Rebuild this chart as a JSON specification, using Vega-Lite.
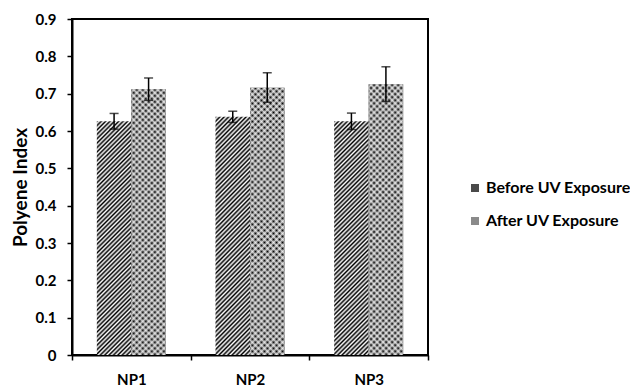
{
  "$schema": "https://vega.github.io/schema/vega-lite/v6.json",
  "width": 356,
  "height": 336,
  "autosize": "none",
  "padding": {"left": 72, "top": 19, "right": 202, "bottom": 33},
  "background": "white",
  "config": {
    "view": {"stroke": "black", "strokeWidth": 2},
    "axis": {
      "labelFont": "Lato", "labelFontWeight": "bold", "labelFontSize": 15, "labelColor": "black",
      "titleFont": "Lato", "titleFontWeight": "bold", "titleFontSize": 19, "titleColor": "black",
      "domainColor": "black", "domainWidth": 2, "tickColor": "black", "tickWidth": 1.5, "tickSize": 5, "grid": false
    }
  },
  "data": {
    "values": [
      {"np": "NP1", "series": "Before UV Exposure", "value": 0.626, "lo": 0.605, "hi": 0.647},
      {"np": "NP1", "series": "After UV Exposure", "value": 0.712, "lo": 0.682, "hi": 0.742},
      {"np": "NP2", "series": "Before UV Exposure", "value": 0.638, "lo": 0.623, "hi": 0.653},
      {"np": "NP2", "series": "After UV Exposure", "value": 0.716, "lo": 0.677, "hi": 0.756},
      {"np": "NP3", "series": "Before UV Exposure", "value": 0.626, "lo": 0.604, "hi": 0.648},
      {"np": "NP3", "series": "After UV Exposure", "value": 0.725, "lo": 0.679, "hi": 0.772}
    ]
  },
  "encoding": {
    "x": {"field": "np", "type": "nominal", "scale": {"paddingInner": 0, "paddingOuter": 0},
      "axis": {"title": null, "labelAngle": 0, "tickBand": "extent", "labelPadding": 12, "labelFontSize": 15, "labelFont": "Lato", "labelFontWeight": "bold"}},
    "xOffset": {"field": "series", "type": "nominal",
      "scale": {"domain": ["Before UV Exposure", "After UV Exposure"], "paddingOuter": 0.72, "paddingInner": 0}},
    "y": {"field": "value", "type": "quantitative", "scale": {"domain": [0, 0.9], "nice": false},
      "axis": {"title": "Polyene Index", "values": [0, 0.1, 0.2, 0.3, 0.4, 0.5, 0.6, 0.7, 0.8, 0.9],
        "labelExpr": "datum.value == 0 ? '0' : format(datum.value, '.1f')", "labelPadding": 11, "titlePadding": 5,
        "labelFont": "Lato", "labelFontWeight": "bold", "labelFontSize": 15,
        "titleFont": "Lato", "titleFontWeight": "bold", "titleFontSize": 19}}
  },
  "layer": [
    {
      "mark": {"type": "bar"},
      "encoding": {
        "y": {"datum": 0},
        "y2": {"datum": 0},
        "color": {"field": "series", "type": "nominal",
          "scale": {"domain": ["Before UV Exposure", "After UV Exposure"], "range": ["#4a4a4a", "#8a8a8a"]},
          "legend": {"title": null, "orient": "none", "legendX": 395, "legendY": 161,
            "labelFont": "Lato", "labelFontWeight": "bold", "labelFontSize": 16, "labelColor": "black",
            "symbolType": "square", "symbolSize": 64, "rowPadding": 17, "labelOffset": 3, "symbolStrokeWidth": 0}}
      }
    },
    {
      "transform": [{"filter": "datum.series == 'Before UV Exposure'"}],
      "mark": {"type": "bar", "fill": {"gradient": "linear", "x1": 0, "y1": 0, "x2": 0.17, "y2": 1.15, "stops": [
        {"offset": 0, "color": "#000"}, {"offset": 0.008, "color": "#fff"}, {"offset": 0.016, "color": "#000"}, {"offset": 0.024, "color": "#fff"},
        {"offset": 0.032, "color": "#000"}, {"offset": 0.04, "color": "#fff"}, {"offset": 0.048, "color": "#000"}, {"offset": 0.056, "color": "#fff"},
        {"offset": 0.064, "color": "#000"}, {"offset": 0.072, "color": "#fff"}, {"offset": 0.08, "color": "#000"}, {"offset": 0.088, "color": "#fff"},
        {"offset": 0.096, "color": "#000"}, {"offset": 0.104, "color": "#fff"}, {"offset": 0.112, "color": "#000"}, {"offset": 0.12, "color": "#fff"},
        {"offset": 0.128, "color": "#000"}, {"offset": 0.136, "color": "#fff"}, {"offset": 0.144, "color": "#000"}, {"offset": 0.152, "color": "#fff"},
        {"offset": 0.16, "color": "#000"}, {"offset": 0.168, "color": "#fff"}, {"offset": 0.176, "color": "#000"}, {"offset": 0.184, "color": "#fff"},
        {"offset": 0.192, "color": "#000"}, {"offset": 0.2, "color": "#fff"}, {"offset": 0.208, "color": "#000"}, {"offset": 0.216, "color": "#fff"},
        {"offset": 0.224, "color": "#000"}, {"offset": 0.232, "color": "#fff"}, {"offset": 0.24, "color": "#000"}, {"offset": 0.248, "color": "#fff"},
        {"offset": 0.256, "color": "#000"}, {"offset": 0.264, "color": "#fff"}, {"offset": 0.272, "color": "#000"}, {"offset": 0.28, "color": "#fff"},
        {"offset": 0.288, "color": "#000"}, {"offset": 0.296, "color": "#fff"}, {"offset": 0.304, "color": "#000"}, {"offset": 0.312, "color": "#fff"},
        {"offset": 0.32, "color": "#000"}, {"offset": 0.328, "color": "#fff"}, {"offset": 0.336, "color": "#000"}, {"offset": 0.344, "color": "#fff"},
        {"offset": 0.352, "color": "#000"}, {"offset": 0.36, "color": "#fff"}, {"offset": 0.368, "color": "#000"}, {"offset": 0.376, "color": "#fff"},
        {"offset": 0.384, "color": "#000"}, {"offset": 0.392, "color": "#fff"}, {"offset": 0.4, "color": "#000"}, {"offset": 0.408, "color": "#fff"},
        {"offset": 0.416, "color": "#000"}, {"offset": 0.424, "color": "#fff"}, {"offset": 0.432, "color": "#000"}, {"offset": 0.44, "color": "#fff"},
        {"offset": 0.448, "color": "#000"}, {"offset": 0.456, "color": "#fff"}, {"offset": 0.464, "color": "#000"}, {"offset": 0.472, "color": "#fff"},
        {"offset": 0.48, "color": "#000"}, {"offset": 0.488, "color": "#fff"}, {"offset": 0.496, "color": "#000"}, {"offset": 0.504, "color": "#fff"},
        {"offset": 0.512, "color": "#000"}, {"offset": 0.52, "color": "#fff"}, {"offset": 0.528, "color": "#000"}, {"offset": 0.536, "color": "#fff"},
        {"offset": 0.544, "color": "#000"}, {"offset": 0.552, "color": "#fff"}, {"offset": 0.56, "color": "#000"}, {"offset": 0.568, "color": "#fff"},
        {"offset": 0.576, "color": "#000"}, {"offset": 0.584, "color": "#fff"}, {"offset": 0.592, "color": "#000"}, {"offset": 0.6, "color": "#fff"},
        {"offset": 0.608, "color": "#000"}, {"offset": 0.616, "color": "#fff"}, {"offset": 0.624, "color": "#000"}, {"offset": 0.632, "color": "#fff"},
        {"offset": 0.64, "color": "#000"}, {"offset": 0.648, "color": "#fff"}, {"offset": 0.656, "color": "#000"}, {"offset": 0.664, "color": "#fff"},
        {"offset": 0.672, "color": "#000"}, {"offset": 0.68, "color": "#fff"}, {"offset": 0.688, "color": "#000"}, {"offset": 0.696, "color": "#fff"},
        {"offset": 0.704, "color": "#000"}, {"offset": 0.712, "color": "#fff"}, {"offset": 0.72, "color": "#000"}, {"offset": 0.728, "color": "#fff"},
        {"offset": 0.736, "color": "#000"}, {"offset": 0.744, "color": "#fff"}, {"offset": 0.752, "color": "#000"}, {"offset": 0.76, "color": "#fff"},
        {"offset": 0.768, "color": "#000"}, {"offset": 0.776, "color": "#fff"}, {"offset": 0.784, "color": "#000"}, {"offset": 0.792, "color": "#fff"},
        {"offset": 0.8, "color": "#000"}, {"offset": 0.808, "color": "#fff"}, {"offset": 0.816, "color": "#000"}, {"offset": 0.824, "color": "#fff"},
        {"offset": 0.832, "color": "#000"}, {"offset": 0.84, "color": "#fff"}, {"offset": 0.848, "color": "#000"}, {"offset": 0.856, "color": "#fff"},
        {"offset": 0.864, "color": "#000"}, {"offset": 0.872, "color": "#fff"}, {"offset": 0.88, "color": "#000"}, {"offset": 0.888, "color": "#fff"},
        {"offset": 0.896, "color": "#000"}, {"offset": 0.904, "color": "#fff"}, {"offset": 0.912, "color": "#000"}, {"offset": 0.92, "color": "#fff"},
        {"offset": 0.928, "color": "#000"}, {"offset": 0.936, "color": "#fff"}, {"offset": 0.944, "color": "#000"}, {"offset": 0.952, "color": "#fff"},
        {"offset": 0.96, "color": "#000"}, {"offset": 0.968, "color": "#fff"}, {"offset": 0.976, "color": "#000"}, {"offset": 0.984, "color": "#fff"},
        {"offset": 0.992, "color": "#000"}, {"offset": 1, "color": "#fff"}
      ]}}
    },
    {
      "transform": [{"filter": "datum.series == 'After UV Exposure'"}],
      "mark": {"type": "bar", "fill": "#000"}
    },
    {
      "transform": [{"filter": "datum.series == 'After UV Exposure'"}],
      "mark": {"type": "bar", "fill": {"gradient": "linear", "x1": 0, "y1": 0, "x2": 0.144, "y2": 1.1125, "stops": [
        {"offset": 0, "color": "#fff0"}, {"offset": 0.01, "color": "#fffb"}, {"offset": 0.02, "color": "#fff0"}, {"offset": 0.03, "color": "#fffb"},
        {"offset": 0.04, "color": "#fff0"}, {"offset": 0.05, "color": "#fffb"}, {"offset": 0.06, "color": "#fff0"}, {"offset": 0.07, "color": "#fffb"},
        {"offset": 0.08, "color": "#fff0"}, {"offset": 0.09, "color": "#fffb"}, {"offset": 0.1, "color": "#fff0"}, {"offset": 0.11, "color": "#fffb"},
        {"offset": 0.12, "color": "#fff0"}, {"offset": 0.13, "color": "#fffb"}, {"offset": 0.14, "color": "#fff0"}, {"offset": 0.15, "color": "#fffb"},
        {"offset": 0.16, "color": "#fff0"}, {"offset": 0.17, "color": "#fffb"}, {"offset": 0.18, "color": "#fff0"}, {"offset": 0.19, "color": "#fffb"},
        {"offset": 0.2, "color": "#fff0"}, {"offset": 0.21, "color": "#fffb"}, {"offset": 0.22, "color": "#fff0"}, {"offset": 0.23, "color": "#fffb"},
        {"offset": 0.24, "color": "#fff0"}, {"offset": 0.25, "color": "#fffb"}, {"offset": 0.26, "color": "#fff0"}, {"offset": 0.27, "color": "#fffb"},
        {"offset": 0.28, "color": "#fff0"}, {"offset": 0.29, "color": "#fffb"}, {"offset": 0.3, "color": "#fff0"}, {"offset": 0.31, "color": "#fffb"},
        {"offset": 0.32, "color": "#fff0"}, {"offset": 0.33, "color": "#fffb"}, {"offset": 0.34, "color": "#fff0"}, {"offset": 0.35, "color": "#fffb"},
        {"offset": 0.36, "color": "#fff0"}, {"offset": 0.37, "color": "#fffb"}, {"offset": 0.38, "color": "#fff0"}, {"offset": 0.39, "color": "#fffb"},
        {"offset": 0.4, "color": "#fff0"}, {"offset": 0.41, "color": "#fffb"}, {"offset": 0.42, "color": "#fff0"}, {"offset": 0.43, "color": "#fffb"},
        {"offset": 0.44, "color": "#fff0"}, {"offset": 0.45, "color": "#fffb"}, {"offset": 0.46, "color": "#fff0"}, {"offset": 0.47, "color": "#fffb"},
        {"offset": 0.48, "color": "#fff0"}, {"offset": 0.49, "color": "#fffb"}, {"offset": 0.5, "color": "#fff0"}, {"offset": 0.51, "color": "#fffb"},
        {"offset": 0.52, "color": "#fff0"}, {"offset": 0.53, "color": "#fffb"}, {"offset": 0.54, "color": "#fff0"}, {"offset": 0.55, "color": "#fffb"},
        {"offset": 0.56, "color": "#fff0"}, {"offset": 0.57, "color": "#fffb"}, {"offset": 0.58, "color": "#fff0"}, {"offset": 0.59, "color": "#fffb"},
        {"offset": 0.6, "color": "#fff0"}, {"offset": 0.61, "color": "#fffb"}, {"offset": 0.62, "color": "#fff0"}, {"offset": 0.63, "color": "#fffb"},
        {"offset": 0.64, "color": "#fff0"}, {"offset": 0.65, "color": "#fffb"}, {"offset": 0.66, "color": "#fff0"}, {"offset": 0.67, "color": "#fffb"},
        {"offset": 0.68, "color": "#fff0"}, {"offset": 0.69, "color": "#fffb"}, {"offset": 0.7, "color": "#fff0"}, {"offset": 0.71, "color": "#fffb"},
        {"offset": 0.72, "color": "#fff0"}, {"offset": 0.73, "color": "#fffb"}, {"offset": 0.74, "color": "#fff0"}, {"offset": 0.75, "color": "#fffb"},
        {"offset": 0.76, "color": "#fff0"}, {"offset": 0.77, "color": "#fffb"}, {"offset": 0.78, "color": "#fff0"}, {"offset": 0.79, "color": "#fffb"},
        {"offset": 0.8, "color": "#fff0"}, {"offset": 0.81, "color": "#fffb"}, {"offset": 0.82, "color": "#fff0"}, {"offset": 0.83, "color": "#fffb"},
        {"offset": 0.84, "color": "#fff0"}, {"offset": 0.85, "color": "#fffb"}, {"offset": 0.86, "color": "#fff0"}, {"offset": 0.87, "color": "#fffb"},
        {"offset": 0.88, "color": "#fff0"}, {"offset": 0.89, "color": "#fffb"}, {"offset": 0.9, "color": "#fff0"}, {"offset": 0.91, "color": "#fffb"},
        {"offset": 0.92, "color": "#fff0"}, {"offset": 0.93, "color": "#fffb"}, {"offset": 0.94, "color": "#fff0"}, {"offset": 0.95, "color": "#fffb"},
        {"offset": 0.96, "color": "#fff0"}, {"offset": 0.97, "color": "#fffb"}, {"offset": 0.98, "color": "#fff0"}, {"offset": 0.99, "color": "#fffb"},
        {"offset": 1, "color": "#fff0"}
      ]}}
    },
    {
      "transform": [{"filter": "datum.series == 'After UV Exposure'"}],
      "mark": {"type": "bar", "fill": {"gradient": "linear", "x1": 0, "y1": 1, "x2": 0.144, "y2": -0.1125, "stops": [
        {"offset": 0, "color": "#fff0"}, {"offset": 0.01, "color": "#fffb"}, {"offset": 0.02, "color": "#fff0"}, {"offset": 0.03, "color": "#fffb"},
        {"offset": 0.04, "color": "#fff0"}, {"offset": 0.05, "color": "#fffb"}, {"offset": 0.06, "color": "#fff0"}, {"offset": 0.07, "color": "#fffb"},
        {"offset": 0.08, "color": "#fff0"}, {"offset": 0.09, "color": "#fffb"}, {"offset": 0.1, "color": "#fff0"}, {"offset": 0.11, "color": "#fffb"},
        {"offset": 0.12, "color": "#fff0"}, {"offset": 0.13, "color": "#fffb"}, {"offset": 0.14, "color": "#fff0"}, {"offset": 0.15, "color": "#fffb"},
        {"offset": 0.16, "color": "#fff0"}, {"offset": 0.17, "color": "#fffb"}, {"offset": 0.18, "color": "#fff0"}, {"offset": 0.19, "color": "#fffb"},
        {"offset": 0.2, "color": "#fff0"}, {"offset": 0.21, "color": "#fffb"}, {"offset": 0.22, "color": "#fff0"}, {"offset": 0.23, "color": "#fffb"},
        {"offset": 0.24, "color": "#fff0"}, {"offset": 0.25, "color": "#fffb"}, {"offset": 0.26, "color": "#fff0"}, {"offset": 0.27, "color": "#fffb"},
        {"offset": 0.28, "color": "#fff0"}, {"offset": 0.29, "color": "#fffb"}, {"offset": 0.3, "color": "#fff0"}, {"offset": 0.31, "color": "#fffb"},
        {"offset": 0.32, "color": "#fff0"}, {"offset": 0.33, "color": "#fffb"}, {"offset": 0.34, "color": "#fff0"}, {"offset": 0.35, "color": "#fffb"},
        {"offset": 0.36, "color": "#fff0"}, {"offset": 0.37, "color": "#fffb"}, {"offset": 0.38, "color": "#fff0"}, {"offset": 0.39, "color": "#fffb"},
        {"offset": 0.4, "color": "#fff0"}, {"offset": 0.41, "color": "#fffb"}, {"offset": 0.42, "color": "#fff0"}, {"offset": 0.43, "color": "#fffb"},
        {"offset": 0.44, "color": "#fff0"}, {"offset": 0.45, "color": "#fffb"}, {"offset": 0.46, "color": "#fff0"}, {"offset": 0.47, "color": "#fffb"},
        {"offset": 0.48, "color": "#fff0"}, {"offset": 0.49, "color": "#fffb"}, {"offset": 0.5, "color": "#fff0"}, {"offset": 0.51, "color": "#fffb"},
        {"offset": 0.52, "color": "#fff0"}, {"offset": 0.53, "color": "#fffb"}, {"offset": 0.54, "color": "#fff0"}, {"offset": 0.55, "color": "#fffb"},
        {"offset": 0.56, "color": "#fff0"}, {"offset": 0.57, "color": "#fffb"}, {"offset": 0.58, "color": "#fff0"}, {"offset": 0.59, "color": "#fffb"},
        {"offset": 0.6, "color": "#fff0"}, {"offset": 0.61, "color": "#fffb"}, {"offset": 0.62, "color": "#fff0"}, {"offset": 0.63, "color": "#fffb"},
        {"offset": 0.64, "color": "#fff0"}, {"offset": 0.65, "color": "#fffb"}, {"offset": 0.66, "color": "#fff0"}, {"offset": 0.67, "color": "#fffb"},
        {"offset": 0.68, "color": "#fff0"}, {"offset": 0.69, "color": "#fffb"}, {"offset": 0.7, "color": "#fff0"}, {"offset": 0.71, "color": "#fffb"},
        {"offset": 0.72, "color": "#fff0"}, {"offset": 0.73, "color": "#fffb"}, {"offset": 0.74, "color": "#fff0"}, {"offset": 0.75, "color": "#fffb"},
        {"offset": 0.76, "color": "#fff0"}, {"offset": 0.77, "color": "#fffb"}, {"offset": 0.78, "color": "#fff0"}, {"offset": 0.79, "color": "#fffb"},
        {"offset": 0.8, "color": "#fff0"}, {"offset": 0.81, "color": "#fffb"}, {"offset": 0.82, "color": "#fff0"}, {"offset": 0.83, "color": "#fffb"},
        {"offset": 0.84, "color": "#fff0"}, {"offset": 0.85, "color": "#fffb"}, {"offset": 0.86, "color": "#fff0"}, {"offset": 0.87, "color": "#fffb"},
        {"offset": 0.88, "color": "#fff0"}, {"offset": 0.89, "color": "#fffb"}, {"offset": 0.9, "color": "#fff0"}, {"offset": 0.91, "color": "#fffb"},
        {"offset": 0.92, "color": "#fff0"}, {"offset": 0.93, "color": "#fffb"}, {"offset": 0.94, "color": "#fff0"}, {"offset": 0.95, "color": "#fffb"},
        {"offset": 0.96, "color": "#fff0"}, {"offset": 0.97, "color": "#fffb"}, {"offset": 0.98, "color": "#fff0"}, {"offset": 0.99, "color": "#fffb"},
        {"offset": 1, "color": "#fff0"}
      ]}}
    },
    {
      "mark": {"type": "rule", "color": "black", "strokeWidth": 1.5},
      "encoding": {"y": {"field": "lo", "type": "quantitative"}, "y2": {"field": "hi"}}
    },
    {
      "mark": {"type": "tick", "orient": "horizontal", "size": 9, "thickness": 1.5, "color": "black"},
      "encoding": {"y": {"field": "hi", "type": "quantitative"}}
    },
    {
      "mark": {"type": "tick", "orient": "horizontal", "size": 9, "thickness": 1.5, "color": "black"},
      "encoding": {"y": {"field": "lo", "type": "quantitative"}}
    }
  ]
}
